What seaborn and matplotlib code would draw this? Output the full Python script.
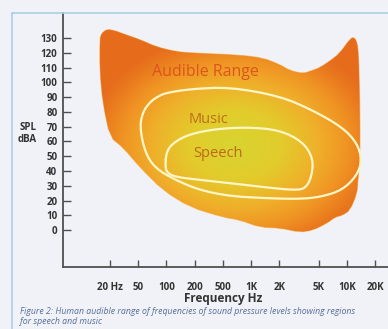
import matplotlib
matplotlib.use("Agg")
import matplotlib.pyplot as plt
import numpy as np
import pandas as pd
import seaborn as sns
from matplotlib.colors import LinearSegmentedColormap
from matplotlib.lines import Line2D
from matplotlib.patches import Polygon

# axis ticks (frequency axis is drawn evenly spaced per tick, with a gap before 5K)
tick_hz = [20, 50, 100, 200, 500, 1000, 2000, 5000, 10000, 20000]
tick_labels = ["20 Hz", "50", "100", "200", "500", "1K", "2K", "5K", "10K", "20K"]
tick_pos = [0, 1, 2, 3, 4, 5, 6, 7.4, 8.4, 9.4]
db_ticks = list(range(0, 131, 10))

# audible range outline (Hz, dB SPL)
audible_hz = [15.6, 16.2, 18.5, 23.5, 30.5, 52, 79, 124, 179, 763, 1343, 2037, 2571,
              3477, 4282, 5165, 7504, 8917, 10030, 11000, 11700, 12470, 13140, 13500, 13800,
              13800, 13140, 12830, 10800, 8917, 7504, 6134, 4387, 3246, 2037, 1247,
              763, 502, 179, 92, 52, 30.5, 20, 16.8, 15.6]
audible_db = [129, 133, 136, 135, 133, 129, 124, 121, 120, 118.5, 116.5, 112, 108,
              106, 108, 110, 117, 122, 126.6, 129.5, 130.5, 129, 124, 108, 74.5,
              47.4, 34, 25, 13.5, 10, 8.8, 4.7, 0, -1.4, 1.4, 2,
              6.8, 8.8, 15.6, 27, 42.7, 56, 63, 86, 108]

# music region outline
music_hz = [52, 56, 67, 79, 97, 179, 596, 2037, 4387, 8917, 12830, 14500, 12830,
            8917, 5165, 3024, 1343, 596, 238, 124, 75.6, 59]
music_db = [69.7, 80, 86.7, 90, 92.8, 95.5, 96.8, 90.7, 81, 69.7, 59, 47.4, 37,
            27, 22.3, 21, 21.7, 23, 27, 34, 42, 52.8]

# speech region outline
speech_hz = [97, 101, 124, 179, 387, 907, 2037, 3477, 4387, 4282, 3723, 2885, 1410,
             763, 238, 124, 101]
speech_db = [44, 54, 60, 65, 68.4, 69.7, 67.7, 59.6, 48.7, 37, 28.4, 27, 29,
             31, 34, 36, 39]

log_hz = np.log10([1, 10] + tick_hz + [40000, 100000])
pos = np.array([-1 - np.log2(10), -1] + tick_pos + [10.4, 10.4 + np.log2(2.5)])


def fwd(f):
    return np.interp(np.log10(np.clip(f, 1e-3, None)), log_hz, pos)


def inv(p):
    return 10 ** np.interp(p, pos, log_hz)


def rounded(hz, db, passes=2):
    # corner cutting on the drawn (axis-position) coordinates, closed outline
    pts = np.column_stack([fwd(np.array(hz)) * 14.6, np.array(db, float)])
    for _ in range(passes):
        nxt = np.roll(pts, -1, axis=0)
        a = 0.75 * pts + 0.25 * nxt
        b = 0.25 * pts + 0.75 * nxt
        pts = np.stack([a, b], axis=1).reshape(-1, 2)
    pts = np.vstack([pts, pts[:1]])
    return inv(pts[:, 0] / 14.6), pts[:, 1]


sns.set_theme(style="ticks")
plt.rcParams["font.family"] = ["Open Sans", "DejaVu Sans"]

fig = plt.figure(figsize=(3.88, 3.29), dpi=100)
fig.patch.set_facecolor("#f1f2f7")
ax = fig.add_axes([63 / 388, 1 - 267 / 329, 325 / 388, 254 / 329])
ax.set_facecolor("none")
ax.set_xscale("function", functions=(fwd, inv))
ax.set_xlim(inv(-1.667), inv(9.86))
ax.set_ylim(-25, 147)

# page frame lines
fig.add_artist(Line2D([12 / 388, 12 / 388], [0, 1 - 13 / 329], color="#a9cfe2", lw=1.2))
fig.add_artist(Line2D([12 / 388, 1], [1 - 13 / 329, 1 - 13 / 329], color="#a9cfe2", lw=1.2))

# audible range filled with a radial gradient
ahz, adb = rounded(audible_hz, audible_db, passes=1)
outline = Polygon(np.column_stack([ahz, adb]), closed=True,
                  facecolor="none", edgecolor="#f5c47e", lw=0.8, transform=ax.transData)
ax.add_patch(outline)
cmap = LinearSegmentedColormap.from_list(
    "heat", [(0, "#d8d430"), (0.3, "#e2cc2c"), (0.55, "#efb02a"), (0.75, "#f09424"),
             (0.9, "#ea7a1e"), (1.0, "#e66c1c")])
gx, gy = np.meshgrid(np.linspace(0, 1, 300), np.linspace(0, 1, 300))
dist = np.sqrt(((gx - 0.53) / 0.46) ** 2 + ((gy - 0.48) / 0.44) ** 2)
img = ax.imshow(np.clip(dist, 0, 1), cmap=cmap, extent=[0, 1, 0, 1], origin="lower",
                transform=ax.transAxes, aspect="auto", interpolation="bilinear", zorder=1)
img.set_clip_path(outline)

# music and speech contours
mhz, mdb = rounded(music_hz, music_db)
shz, sdb = rounded(speech_hz, speech_db)
regions = pd.concat([
    pd.DataFrame({"hz": mhz, "db": mdb, "region": "Music"}),
    pd.DataFrame({"hz": shz, "db": sdb, "region": "Speech"}),
])
sns.lineplot(data=regions, x="hz", y="db", units="region", estimator=None, sort=False,
             color="#fff6c8", lw=1.6, ax=ax, zorder=3)

ax.text(281, 107, "Audible Range", color="#dc541c", fontsize=11.5, ha="center", va="center", zorder=4)
ax.text(319, 75, "Music", color="#bf6c1c", fontsize=10.5, ha="center", va="center", zorder=4)
ax.text(428, 52, "Speech", color="#bf681a", fontsize=10.5, ha="center", va="center", zorder=4)

sns.despine(ax=ax)
for s in ["left", "bottom"]:
    ax.spines[s].set_color("#505050")
    ax.spines[s].set_linewidth(1.3)
ax.set_yticks(db_ticks)
ax.set_yticklabels([str(v) for v in db_ticks], fontsize=7, fontweight="bold", color="#333333")
ax.set_xticks(tick_hz)
ax.set_xticklabels(tick_labels, fontsize=7, fontweight="bold", color="#333333")
ax.minorticks_off()
ax.tick_params(axis="y", direction="in", length=6, width=1, color="#505050", pad=4)
ax.tick_params(axis="x", direction="in", length=5, width=1, color="#505050", pad=11)
ax.set_xlabel("")
ax.set_ylabel("")

fig.text(37 / 388, 1 - 127 / 329, "SPL", fontsize=7, fontweight="bold", color="#333333",
         ha="right", va="center")
fig.text(37 / 388, 1 - 140 / 329, "dBA", fontsize=7, fontweight="bold", color="#333333",
         ha="right", va="center")
fig.text(223 / 388, 1 - 298.5 / 329, "Frequency Hz", fontsize=8.5, fontweight="bold",
         color="#333333", ha="center", va="center")
fig.text(20 / 388, 1 - 311 / 329,
         "Figure 2: Human audible range of frequencies of sound pressure levels showing regions",
         fontsize=6.3, style="italic", color="#55709a", ha="left", va="center")
fig.text(20 / 388, 1 - 321 / 329, "for speech and music", fontsize=6.3, style="italic",
         color="#55709a", ha="left", va="center")

fig.savefig("out.png", dpi=100, facecolor=fig.get_facecolor())
